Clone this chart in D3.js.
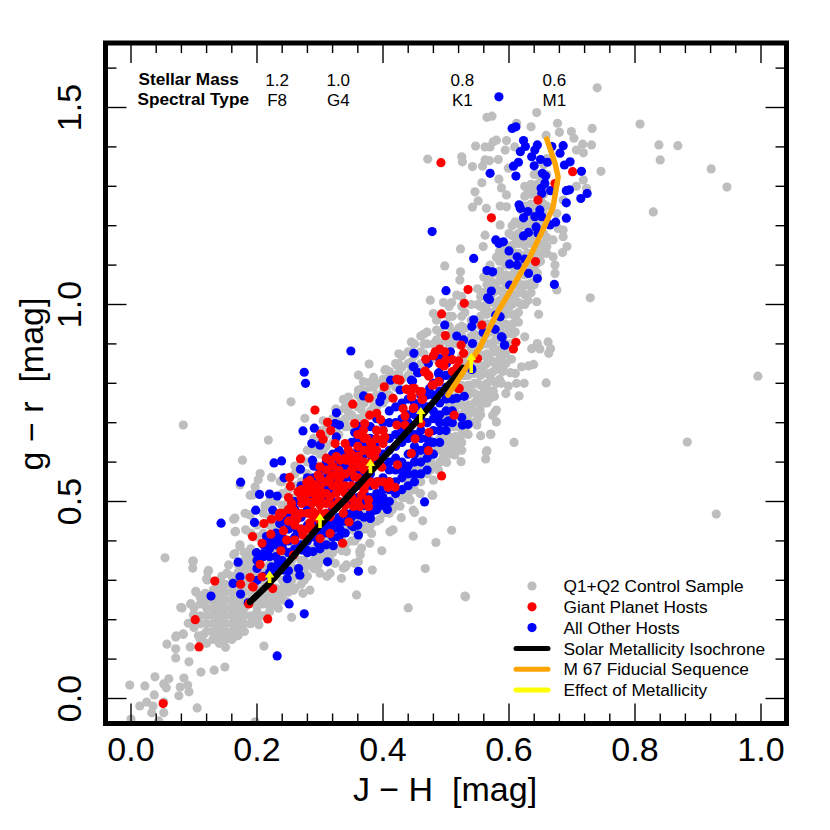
<!DOCTYPE html>
<html><head><meta charset="utf-8">
<script src="https://cdn.jsdelivr.net/npm/d3@7"></script>
<style>html,body{margin:0;padding:0;background:#fff}text{font-family:"Liberation Sans",Arial,sans-serif;fill:#000;white-space:pre}</style>
</head><body><svg id="c" width="830" height="830"></svg>
<script>
const controlOutliers=[[.054,.357],[.098,.349],[.098,.331],[.122,.321],[.121,.301],[.103,.270],[.095,.240],[.081,.230],[.113,.258],[.071,.156],[.083,.164],[.057,.138],[.071,.126],[.071,.103],[.094,.131],[.092,.093],[.111,.067],[.132,.072],[.149,.080],[.211,.133],[.038,.055],[.060,.050],[.022,.032],[-.002,.034],[.052,.037],[.056,.027],[.078,.029],[.090,.034],[.084,.052],[.092,.017],[.076,.007],[.037,.009],[.025,-.009],[.014,-.019],[.035,-.019],[.052,-.009],[.052,-.036],[.033,-.036],[.105,-.024],[0,-.052],[.044,-.057],[.197,-.059],[.083,.694],[.44,.23],[.53,.26],[.808,1.458],[.838,1.405],[.868,1.403],[.84,1.367],[.921,1.344],[.946,1.298],[.829,1.235],[.995,.818],[.883,.651],[.929,.468],[.74,1.55],[.729,1.017],[.471,1.369]];
const controlTop=[[.644,1.487],[.573,1.478],[.565,1.475],[.612,1.46],[.635,1.451],[.659,1.429],[.677,1.46],[.680,1.437],[.699,1.439],[.703,1.422],[.732,1.447],[.717,1.407],[.731,1.405],[.707,1.392],[.718,1.385],[.746,1.338],[.707,1.30],[.718,1.316],[.723,1.295],[.686,1.265],[.676,1.231],[.678,1.193],[.686,1.189],[.670,1.164],[.66,1.147],[.547,1.402],[.562,1.40],[.575,1.413],[.580,1.417],[.596,1.416],[.570,1.40],[.594,1.392],[.609,1.40],[.526,1.362],[.525,1.375],[.542,1.35],[.562,1.367],[.569,1.365],[.583,1.368],[.558,1.351],[.599,1.346],[.584,1.318],[.557,1.309],[.588,1.296],[.596,1.278],[.546,1.286],[.551,1.263],[.542,1.247],[.564,1.244],[.586,1.25],[.596,1.248],[.686,1.172],[.692,1.147],[.685,1.132],[.670,1.121],[.673,1.10],[.673,1.079],[.676,1.037],[.644,1.007],[.647,.975],[.523,1.141],[.498,1.098],[.523,1.083],[.522,1.062],[.517,1.024],[.496,1.005],[.509,1.005],[.475,1.011],[.480,.977],[.559,1.147],[.562,1.176],[.586,1.202]];
const controlRight=[[.625,.918],[.645,.901],[.636,.888],[.649,.887],[.662,.905],[.666,.888],[.663,.876],[.604,.861],[.639,.848],[.631,.844],[.620,.842],[.586,.850],[.591,.833],[.610,.825],[.602,.827],[.624,.800],[.612,.800],[.599,.793],[.588,.800],[.595,.774],[.616,.768],[.659,.801],[.577,.767],[.570,.762],[.565,.757],[.580,.732],[.574,.718],[.554,.732],[.551,.711],[.549,.694],[.571,.670],[.555,.667],[.608,.650],[.565,.629],[.563,.608],[.525,.630],[.514,.618],[.524,.601],[.501,.599],[.488,.580],[.480,.554],[.478,.516],[.459,.520],[.448,.478],[.586,.910],[.575,.893],[.596,.884],[.607,.927],[.484,.396],[.467,.330],[.509,.427],[.531,.258],[.448,.412],[.463,.451],[.450,.472],[.429,.459],[.479,.516],[.459,.521],[.443,.504],[.427,.488],[.416,.428],[.411,.423],[.382,.419],[.379,.394],[.398,.375],[.363,.373],[.361,.347],[.340,.334],[.355,.343],[.383,.326],[.334,.305],[.358,.263],[.316,.318],[.297,.339],[.300,.318],[.284,.275],[.273,.267],[.258,.275],[.242,.267],[.231,.275],[.215,.258],[.564,.626],[.571,.671],[.578,.728],[.580,.702],[.311,.310],[.342,.339],[.324,.343],[.337,.331],[.364,.365],[.366,.382],[.356,.343],[.342,.373]];
const controlLeft=[[.378,.849],[.361,.821],[.378,.802],[.403,.834],[.422,.846],[.254,.753],[.218,.656],[.177,.605],[.276,.711],[.337,.759],[.343,.732],[.361,.783],[.369,.804],[.205,.571],[.223,.561],[.197,.537],[.189,.516],[.213,.487],[.163,.455],[.165,.423],[.181,.470],[.182,.428],[.173,.385],[.165,.368],[.186,.360],[.099,.349],[.123,.325],[.120,.304],[.165,.458],[.166,.424],[.173,.390],[.163,.365],[.155,.339],[.144,.310],[.103,.272],[.118,.267],[.110,.257],[.079,.231],[.095,.240],[.131,.276],[.141,.301],[.152,.318],[.083,.163],[.072,.159],[.091,.191],[.099,.212],[.115,.162],[.133,.159],[.149,.162],[.168,.159],[.107,.159],[.202,.208],[.203,.187],[.255,.206],[.234,.229],[.247,.246],[.221,.234],[.210,.246],[.200,.233],[.194,.517],[.202,.555],[.213,.491],[.189,.466],[.173,.542],[.237,.551]];
const controlDense=[[.10,[.18,.20,.23]],[.11,[.15,.19,.21,.24]],[.12,[.14,.17,.19,.21,.23,.25]],[.13,[.15,.17,.19,.21,.23,.25]],[.14,[.14,.16,.18,.20,.22,.24,.26,.28]],[.15,[.13,.15,.17,.19,.21,.23,.25,.27,.29]],[.16,[.15,.17,.19,.21,.23,.25,.27,.29,.31]],[.17,[.16,.18,.20,.22,.24,.26,.28,.30,.32,.34]],[.18,[.17,.19,.21,.23,.25,.27,.29,.31,.33,.35,.37]],[.19,[.19,.21,.25,.27,.29,.32,.34,.36,.38,.42]],[.20,[.20,.22,.24,.26,.28,.31,.34,.37,.41,.44]],[.21,[.21,.24,.26,.28,.30,.33,.36,.42,.47]],[.22,[.22,.25,.27,.29,.31,.34,.37,.40,.44,.46,.50]],[.23,[.24,.26,.28,.31,.34,.37,.41,.44,.47,.50]],[.24,[.25,.28,.30,.33,.36,.39,.43,.46,.49,.52,.55]],[.25,[.27,.29,.31,.34,.37,.40,.50,.53,.56]],[.26,[.28,.31,.33,.36,.39,.51,.54,.57,.59]],[.27,[.29,.32,.35,.38,.41,.55,.58,.61]],[.28,[.31,.34,.37,.40,.57,.60,.63]],[.29,[.33,.35,.38,.41,.60,.63,.66]],[.30,[.35,.37,.41,.62,.65,.68]],[.31,[.36,.38,.41,.64,.67,.70]],[.32,[.37,.39,.42,.44,.65,.68,.71]],[.33,[.38,.41,.44,.67,.70,.73]],[.34,[.39,.42,.44,.69,.71,.74]],[.35,[.40,.43,.45,.69,.72,.75]],[.36,[.41,.44,.46,.71,.74,.77]],[.37,[.43,.45,.48,.72,.75,.78]],[.38,[.44,.46,.49,.73,.76,.79]],[.39,[.45,.48,.50,.74,.77,.80]],[.40,[.47,.50,.52,.75,.78,.81]],[.41,[.47,.50,.53,.77,.80,.83]],[.42,[.49,.52,.55,.79,.82,.85]],[.43,[.51,.53,.56,.81,.84,.87]],[.44,[.52,.55,.57,.82,.85,.88]],[.45,[.53,.56,.59,.84,.87,.90]],[.46,[.55,.58,.61,.85,.88,.92]],[.47,[.57,.60,.62,.86,.90,.93]],[.48,[.59,.62,.64,.87,.90]],[.49,[.60,.63,.66,.90,.93]],[.50,[.62,.65,.68,.88,.91,.95]],[.51,[.63,.66,.69,.72,.90,.93,.97]],[.52,[.66,.69,.72,.78,.82,.90,.94]],[.53,[.68,.71,.74,.78,.82,.86,.90,.94,.98]],[.54,[.70,.74,.78,.86,.89,.92,.96,1.0]],[.55,[.72,.76,.80,.84,.88,.92,.96,1.0,1.04]],[.56,[.75,.79,.83,.87,.91,.95,.99,1.03,1.07]],[.57,[.78,.82,.86,.90,.94,.98,1.02,1.06,1.10]],[.58,[.80,.84,.88,.92,.96,1.0,1.04,1.08,1.12]],[.59,[.83,.87,.91,.95,.99,1.03,1.07,1.11,1.15]],[.60,[.90,.94,.98,1.02,1.06,1.10,1.14,1.18]],[.61,[.93,.97,1.01,1.05,1.09,1.13,1.17,1.21]],[.62,[1.0,1.04,1.08,1.12,1.16,1.20,1.24]],[.63,[1.01,1.05,1.09,1.13,1.17,1.21,1.25,1.29]],[.64,[1.05,1.09,1.13,1.17,1.21,1.25,1.29,1.33]],[.65,[1.11,1.15,1.19,1.23,1.27,1.31]],[.66,[1.13,1.17,1.21,1.25,1.29,1.33,1.37]]];
const controlDenseExtra=[[.255,[.28,.30,.325,.35,.375]],[.275,[.30,.325,.35,.375,.40]],[.295,[.335,.36,.385,.41]],[.305,[.63,.655,.68,.705]],[.315,[.355,.38,.405,.43]],[.325,[.66,.685,.71,.735]],[.335,[.375,.40,.425]],[.345,[.69,.715,.74,.765]],[.355,[.40,.425,.45]],[.365,[.71,.735,.76,.785]],[.375,[.43,.455,.48]],[.385,[.74,.765,.79,.815]],[.395,[.455,.48,.505]],[.405,[.76,.785,.81,.835]],[.415,[.48,.505,.53]],[.425,[.80,.825,.85,.875]],[.435,[.51,.535,.56]],[.445,[.83,.855,.88,.905]],[.455,[.55,.575,.60,.625]],[.465,[.875,.90,.925]],[.475,[.58,.605,.63,.655]],[.485,[.86,.885,.91,.935,.96]],[.495,[.61,.635,.66,.685,.71]],[.505,[.62,.64,.665,.69,.715,.74,.87,.895,.92,.945,.97,.995]],[.515,[.64,.665,.69,.715,.74,.765,.79]],[.525,[.65,.67,.695,.72,.745,.77,.795,.82,.845,.87,.895,.92,.945,.97,.995,1.02]],[.535,[.67,.695,.72,.745,.77,.795,.82,.845,.87]],[.545,[.70,.725,.75,.775,.80,.825,.85,.875,.90,.925,.95]],[.555,[.72,.745,.77,.795,.82,.845,.87,.895,.92,.945,.97,.995,1.02]],[.565,[.75,.775,.80,.825,.85,.875,.90,.925,.95,.975,1.0,1.025,1.05,1.075]],[.575,[.78,.805,.83,.855,.88,.905,.93,.955,.98,1.005,1.03,1.055,1.08]],[.585,[.81,.835,.86,.885,.91,.935,.96,.985,1.01,1.035,1.06,1.085,1.11,1.135]],[.595,[.85,.875,.90,.925,.95,.975,1.0,1.025,1.05,1.075,1.10,1.125,1.15]],[.605,[.90,.925,.95,.975,1.0,1.025,1.05,1.075,1.10,1.125,1.15,1.175,1.20]],[.615,[.955,.98,1.005,1.03,1.055,1.08,1.105,1.13,1.155,1.18,1.205]],[.625,[1.0,1.025,1.05,1.075,1.10,1.125,1.15,1.175,1.20,1.225,1.25,1.275,1.30]],[.635,[1.03,1.055,1.08,1.105,1.13,1.155,1.18,1.205,1.23,1.255,1.28,1.305]],[.645,[1.08,1.105,1.13,1.155,1.18,1.205,1.23,1.255,1.28,1.305,1.33]],[.655,[1.13,1.155,1.18,1.205,1.23,1.255,1.28,1.305,1.33,1.355]]];
const giantHosts=[[.292,.732],[.312,.701],[.317,.680],[.301,.671],[.305,.658],[.269,.608],[.252,.561],[.253,.539],[.250,.510],[.265,.525],[.279,.521],[.236,.470],[.235,.461],[.223,.455],[.211,.444],[.193,.411],[.208,.394],[.222,.417],[.242,.426],[.247,.402],[.260,.402],[.238,.375],[.205,.340],[.189,.307],[.208,.309],[.174,.290],[.193,.284],[.225,.279],[.258,.364],[.273,.415],[.284,.446],[.255,.495],[.271,.495],[.258,.477],[.263,.455],[.287,.495],[.289,.474],[.300,.491],[.310,.495],[.316,.419],[.300,.406],[.336,.394],[.346,.448],[.337,.470],[.316,.461],[.326,.487],[.279,.548],[.292,.542],[.297,.567],[.284,.554],[.300,.588],[.316,.605],[.326,.614],[.340,.647],[.324,.647],[.345,.631],[.361,.615],[.332,.605],[.342,.605],[.310,.580],[.321,.567],[.332,.563],[.316,.559],[.300,.537],[.302,.521],[.316,.512],[.326,.521],[.355,.698],[.369,.681],[.371,.698],[.379,.719],[.390,.724],[.396,.708],[.390,.681],[.374,.660],[.382,.647],[.377,.631],[.403,.664],[.400,.647],[.387,.614],[.379,.597],[.361,.588],[.350,.576],[.355,.563],[.398,.587],[.423,.593],[.392,.550],[.387,.542],[.371,.541],[.408,.536],[.419,.536],[.366,.516],[.350,.508],[.363,.487],[.377,.504],[.377,.487],[.353,.487],[.445,.622],[.472,.629],[.451,.659],[.473,.675],[.422,.694],[.435,.694],[.432,.736],[.435,.717],[.449,.738],[.462,.759],[.445,.766],[.461,.779],[.437,.785],[.447,.787],[.416,.762],[.402,.791],[.422,.810],[.378,.763],[.352,.747],[.480,.796],[.489,.804],[.466,.829],[.473,.818],[.497,.844],[.518,.838],[.493,.565],[.513,.719],[.520,.787],[.460,.698],[.499,.921],[.483,.880],[.490,.887],[.498,.880],[.468,.861],[.520,.857],[.528,.876],[.524,.897],[.517,.838],[.550,.863],[.467,.831],[.472,.821],[.488,.804],[.478,.795],[.521,.787],[.438,.784],[.450,.787],[.459,.778],[.446,.766],[.463,.760],[.427,.808],[.448,.736],[.607,.887],[.611,.904],[.492,1.360],[.701,1.337],[.673,1.307],[.646,1.265],[.572,1.220],[.642,1.109],[.535,1.038],[.529,1.003],[.493,.976],[.557,.948],[.051,-.013],[.108,.131],[.102,.2],[.133,.298],[.217,.202],[.187,.24],[.194,.283],
[.28,.50],[.29,.52],[.30,.51],[.31,.52],[.31,.55],[.30,.56],[.29,.50],[.32,.54],[.33,.53],[.33,.55],[.34,.54],[.34,.57],[.35,.58],[.35,.60],[.33,.58],[.32,.59],[.31,.61],[.34,.61],[.36,.60],[.37,.58],[.36,.56],[.37,.60],[.37,.63],[.38,.62],[.38,.65],[.37,.66],[.39,.66],[.39,.63],[.36,.64],[.35,.62],[.36,.67],[.34,.52],[.35,.54],[.31,.47],[.32,.49],[.29,.46],[.30,.47],[.28,.47],[.27,.47],[.27,.51],[.26,.46],[.25,.48],[.24,.47],[.25,.45],[.26,.44],[.27,.43],[.28,.43],[.29,.43],[.30,.45],[.28,.53],[.29,.54],[.30,.53],[.27,.53],[.33,.50],[.34,.49],[.35,.51],[.36,.50],[.37,.53],[.38,.55],[.40,.55],[.41,.55],[.51,.83],[.51,.86],[.50,.86],[.49,.85],[.48,.87],[.40,.68]];
const otherHosts=[[.275,.828],[.277,.800],[.326,.725],[.273,.679],[.291,.686],[.331,.694],[.324,.698],[.287,.647],[.300,.643],[.326,.664],[.355,.675],[.363,.690],[.395,.753],[.398,.766],[.369,.768],[.412,.808],[.427,.783],[.445,.808],[.474,.787],[.456,.827],[.488,.825],[.448,.842],[.469,.859],[.501,.851],[.540,.838],[.239,.603],[.227,.598],[.288,.605],[.269,.582],[.243,.560],[.174,.549],[.204,.518],[.220,.519],[.232,.514],[.198,.478],[.225,.478],[.196,.447],[.170,.346],[.173,.309],[.162,.292],[.174,.265],[.220,.360],[.210,.368],[.199,.370],[.223,.334],[.234,.343],[.242,.326],[.250,.324],[.248,.304],[.266,.330],[.268,.313],[.312,.347],[.361,.323],[.321,.388],[.289,.373],[.279,.377],[.297,.394],[.361,.415],[.380,.457],[.388,.478],[.407,.480],[.362,.466],[.332,.428],[.353,.436],[.263,.428],[.250,.444],[.236,.444],[.258,.436],[.242,.377],[.231,.402],[.215,.411],[.271,.377],[.466,.499],[.449,.876],[.472,.850],[.449,.842],[.455,.827],[.489,.827],[.509,.827],[.447,.806],[.517,.920],[.528,.910],[.542,.901],[.507,.880],[.505,.863],[.490,.863],[.541,.835],[.588,.918],[.593,.897],[.529,.767],[.517,.762],[.503,.766],[.504,.705],[.525,.713],[.526,.694],[.535,.696],[.584,1.527],[.605,1.447],[.611,1.451],[.623,1.416],[.626,1.401],[.618,1.388],[.645,1.405],[.641,1.392],[.636,1.375],[.650,1.368],[.661,1.361],[.668,1.401],[.686,1.403],[.681,1.384],[.697,1.362],[.688,1.354],[.615,1.361],[.607,1.351],[.640,1.352],[.611,1.326],[.570,1.333],[.715,1.338],[.653,1.333],[.658,1.326],[.657,1.307],[.651,1.295],[.652,1.282],[.666,1.289],[.691,1.289],[.696,1.291],[.724,1.282],[.714,1.269],[.691,1.258],[.616,1.253],[.618,1.244],[.630,1.236],[.649,1.240],[.652,1.223],[.641,1.223],[.623,1.220],[.691,1.219],[.674,1.209],[.665,1.202],[.643,1.197],[.631,1.183],[.623,1.174],[.646,1.181],[.579,1.164],[.584,1.155],[.591,1.159],[.600,1.136],[.613,1.121],[.625,1.115],[.601,1.103],[.613,1.100],[.544,1.117],[.565,1.086],[.574,1.083],[.631,1.079],[.645,1.066],[.672,1.051],[.601,1.049],[.572,1.034],[.566,1.017],[.569,1.013],[.500,1.035],[.478,1.185],[.579,.973],[.586,.969],[.544,.961],[.541,.944],[.498,.948],[.578,.937],[.559,.929],[.589,.917],[.593,.897],[.127,.26],[.186,.243],[.232,.108],[.251,.24],[.275,.215],[.143,.445],[.349,.882]];
const otherDense=[[.20,[.30,.33,.35]],[.21,[.31,.36,.39]],[.22,[.32,.38,.40]],[.23,[.33,.36,.39,.42]],[.24,[.35,.39,.41,.45]],[.25,[.37,.40,.43,.46]],[.26,[.38,.41,.45,.48,.50]],[.27,[.39,.43,.46,.50,.52,.54]],[.28,[.37,.40,.44,.48,.51,.54,.56]],[.29,[.41,.45,.47,.50,.53,.56,.59]],[.30,[.38,.41,.43,.46,.50,.52,.55,.58]],[.31,[.39,.42,.44,.47,.51,.53,.56,.60]],[.32,[.41,.43,.45,.48,.50,.52,.55,.58,.62]],[.33,[.41,.44,.46,.50,.53,.57,.60,.63]],[.34,[.42,.45,.47,.50,.53,.56,.59,.62]],[.35,[.44,.46,.47,.50,.53,.56,.59,.62,.65]],[.36,[.44,.47,.49,.51,.54,.57,.60,.63,.66]],[.37,[.46,.49,.50,.52,.56,.59,.62,.65]],[.38,[.47,.49,.51,.54,.57,.60,.63,.66,.69]],[.39,[.48,.50,.52,.55,.60,.62,.65,.68,.71]],[.40,[.49,.51,.53,.54,.56,.59,.62,.68,.70]],[.41,[.50,.53,.55,.58,.60,.63,.66,.70,.73]],[.42,[.52,.55,.58,.61,.64,.67,.70,.74]],[.43,[.53,.56,.58,.60,.65,.68,.71,.75]],[.44,[.54,.57,.59,.62,.66,.70,.72,.76]],[.45,[.55,.57,.60,.62,.64,.67,.72,.75]],[.46,[.57,.60,.63,.66,.68,.71,.74,.77]],[.47,[.58,.61,.63,.64,.66,.70,.74,.77]],[.48,[.62,.65,.68,.71,.73,.77,.80]],[.49,[.65,.68,.70,.72,.75,.78,.81]],[.50,[.68,.70,.73,.76,.79,.82]],[.51,[.70,.73,.76]]];
const isochrone=[[.189,.245],[.22,.293],[.26,.365],[.30,.44],[.34,.505],[.38,.575],[.42,.645],[.46,.715],[.50,.79],[.527,.839]];
const fiducial=[[.503,.77],[.554,.892],[.581,.978],[.606,1.045],[.633,1.12],[.654,1.19],[.67,1.248],[.678,1.324],[.673,1.359],[.66,1.42]];
const metallicityArrows=[[.22,.293,.325],[.30,.433,.47],[.38,.572,.608],[.46,.70,.74],[.54,.826,.877]];
const massLabels=["1.2","1.0","0.8","0.6"];
const typeLabels=["F8","G4","K1","M1"];
const massPositions=[.232,.329,.526,.672];
const xMajor=[0,.2,.4,.6,.8,1];
const yMajor=[0,.5,1,1.5];
const legendPoints=["Q1+Q2 Control Sample","Giant Planet Hosts","All Other Hosts"];
const legendLines=["Solar Metallicity Isochrone","M 67 Fiducial Sequence","Effect of Metallicity"];
const legendColors=["#BEBEBE","#FF0000","#0000FF"];
const lineColors=["#000000","#FFA500","#FFFF00"];

const L=105.5,R=786.5,T=43,B=723.5,RAD=4.6;
const x=d3.scaleLinear().domain([0,1]).range([131,761]);
const y=d3.scaleLinear().domain([0,1.5]).range([698.5,107.5]);
const unroll=t=>t.flatMap(c=>c[1].map(v=>[c[0],v]));
const svg=d3.select("#c");
svg.append("defs").append("clipPath").attr("id","box").append("rect").attr("x",L).attr("y",T).attr("width",R-L).attr("height",B-T);
const plot=svg.append("g").attr("clip-path","url(#box)");
function dots(data,color){plot.append("g").selectAll("circle").data(data).join("circle").attr("cx",d=>x(d[0])).attr("cy",d=>y(d[1])).attr("r",RAD).attr("fill",color);}
dots([...controlOutliers,...controlTop,...controlRight,...controlLeft,...unroll(controlDense),...unroll(controlDenseExtra)],legendColors[0]);
dots([...otherHosts,...unroll(otherDense)],legendColors[2]);
dots(giantHosts,legendColors[1]);
const line=d3.line().x(d=>x(d[0])).y(d=>y(d[1]));
plot.append("path").attr("d",line(isochrone)).attr("fill","none").attr("stroke",lineColors[0]).attr("stroke-width",6.5).attr("stroke-linecap","round").attr("stroke-linejoin","round");
plot.append("path").attr("d",line(fiducial)).attr("fill","none").attr("stroke",lineColors[1]).attr("stroke-width",5.5).attr("stroke-linecap","round").attr("stroke-linejoin","round");
metallicityArrows.forEach(a=>{const px=x(a[0]),p0=y(a[1]),p1=y(a[2]);
 plot.append("path").attr("d",`M${px-1.8},${p0}L${px-1.8},${p1+7}L${px-4.8},${p1+7}L${px},${p1}L${px+4.8},${p1+7}L${px+1.8},${p1+7}L${px+1.8},${p0}Z`).attr("fill",lineColors[2]);});
const tk=svg.append("g").attr("stroke","#000").attr("stroke-width",1.4);
const t=(a,b,c,d)=>tk.append("line").attr("x1",a).attr("y1",b).attr("x2",c).attr("y2",d);
d3.range(0,26).map(i=>i*.04).forEach(v=>{const mj=xMajor.some(m=>Math.abs(m-v)<1e-6),l=mj?20:10;t(x(v),B,x(v),B-l);t(x(v),T,x(v),T+l);});
d3.range(0,17).map(i=>i*.1).forEach(v=>{const mj=yMajor.some(m=>Math.abs(m-v)<1e-6),l=mj?21:11;t(L,y(v),L+l,y(v));t(R,y(v),R-l,y(v));});
svg.append("rect").attr("x",L).attr("y",T).attr("width",R-L).attr("height",B-T).attr("fill","none").attr("stroke","#000").attr("stroke-width",5);
xMajor.forEach(v=>svg.append("text").attr("x",x(v)).attr("y",761).attr("text-anchor","middle").attr("font-size",34).text(v.toFixed(1)));
yMajor.forEach(v=>svg.append("text").attr("transform",`translate(81,${y(v)}) rotate(-90)`).attr("text-anchor","middle").attr("font-size",34).text(v.toFixed(1)));
svg.append("text").attr("x",445).attr("y",801).attr("text-anchor","middle").attr("font-size",34).text("J \u2212 H  [mag]");
svg.append("text").attr("transform","translate(43,384) rotate(-90)").attr("text-anchor","middle").attr("font-size",34).text("g \u2212 r  [mag]");
svg.append("text").attr("x",138.5).attr("y",85).attr("font-size",17.2).attr("font-weight","bold").text("Stellar Mass");
svg.append("text").attr("x",137.5).attr("y",105).attr("font-size",17.2).attr("font-weight","bold").text("Spectral Type");
massLabels.forEach((s,i)=>svg.append("text").attr("x",x(massPositions[i])).attr("y",86).attr("text-anchor","middle").attr("font-size",17).text(s));
typeLabels.forEach((s,i)=>svg.append("text").attr("x",x(massPositions[i])).attr("y",105.5).attr("text-anchor","middle").attr("font-size",17).text(s));
legendPoints.forEach((s,i)=>{const yy=586+i*20.8;
 svg.append("circle").attr("cx",532).attr("cy",yy).attr("r",RAD).attr("fill",legendColors[i]);
 svg.append("text").attr("x",563.5).attr("y",yy+6).attr("font-size",17.3).text(s);});
legendLines.forEach((s,i)=>{const yy=648.5+i*20.8;
 svg.append("line").attr("x1",516).attr("x2",548).attr("y1",yy).attr("y2",yy).attr("stroke",lineColors[i]).attr("stroke-width",5).attr("stroke-linecap","round");
 svg.append("text").attr("x",563.5).attr("y",yy+6).attr("font-size",17.3).text(s);});
</script></body></html>
